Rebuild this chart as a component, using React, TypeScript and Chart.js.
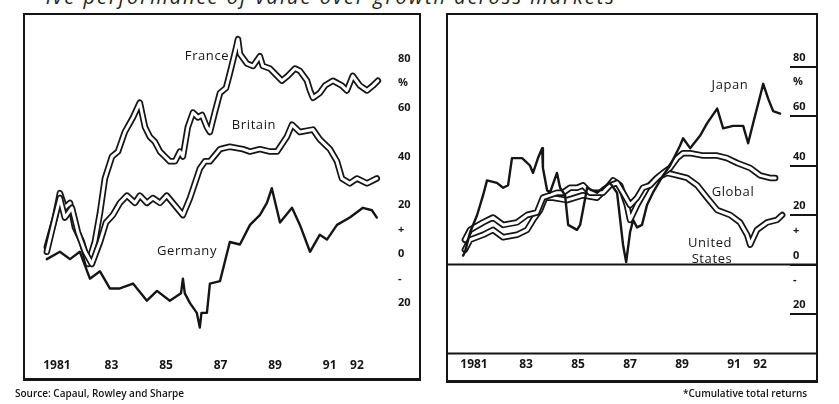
import React, { useEffect, useRef } from "react";
import { Chart, registerables } from "chart.js";

Chart.register(...registerables);

// ---------- data ----------
const X_TICK_VALUES = [1981, 1983, 1985, 1987, 1989, 1991, 1992];
const X_TICK_LABELS = ["1981", "83", "85", "87", "89", "91", "92"];
const Y_TICK_VALUES = [80, 70, 60, 40, 20, 10, 0, -10, -20];
const Y_TICK_LABELS = ["80", "%", "60", "40", "20", "+", "0", "-", "20"];
const Y_RULED_VALUES = [80, 60, 40, 20, 0, -20];

const FRANCE: [number, number][] = [
  [1980.63, 3], [1980.93, 15], [1981.11, 25], [1981.29, 19], [1981.48, 21], [1981.66, 11],
  [1981.92, 5], [1982.14, -4], [1982.39, 5], [1982.58, 17], [1982.76, 31], [1983.02, 40],
  [1983.24, 42], [1983.49, 50], [1983.79, 56], [1984.04, 62], [1984.23, 52], [1984.41, 48],
  [1984.59, 46], [1984.78, 42], [1984.96, 40], [1985.14, 38], [1985.33, 38], [1985.51, 42],
  [1985.62, 40], [1985.8, 52], [1985.99, 58], [1986.17, 56], [1986.32, 57], [1986.5, 52],
  [1986.61, 50], [1986.79, 58], [1986.98, 66], [1987.2, 68], [1987.34, 74], [1987.56, 84],
  [1987.64, 88], [1987.71, 82], [1987.97, 78], [1988.19, 77], [1988.44, 81], [1988.55, 77],
  [1988.81, 76], [1989.07, 73], [1989.25, 71], [1989.47, 73], [1989.73, 76], [1989.91, 75],
  [1990.17, 71], [1990.28, 67], [1990.39, 64], [1990.64, 66], [1990.83, 69], [1991.12, 71],
  [1991.45, 69], [1991.63, 67], [1991.85, 73], [1992.11, 69], [1992.37, 67], [1992.59, 69],
  [1992.77, 71],
];

const BRITAIN: [number, number][] = [
  [1980.63, 1], [1980.93, 15], [1981.11, 23], [1981.29, 15], [1981.55, 19], [1981.77, 9],
  [1982.03, 1], [1982.28, -4], [1982.58, 5], [1982.8, 13], [1983.05, 16], [1983.31, 21],
  [1983.57, 24], [1983.86, 21], [1984.04, 24], [1984.3, 21], [1984.52, 23], [1984.78, 21],
  [1985.03, 24], [1985.25, 21], [1985.4, 19], [1985.62, 16], [1985.88, 23], [1986.24, 35],
  [1986.43, 38], [1986.61, 38], [1986.98, 43], [1987.34, 44], [1987.82, 43], [1988.08, 42],
  [1988.44, 43], [1988.81, 42], [1989.07, 42], [1989.43, 48], [1989.62, 53], [1989.91, 50],
  [1990.39, 51], [1990.64, 47], [1991.01, 43], [1991.27, 38], [1991.45, 31], [1991.74, 29],
  [1992.0, 31], [1992.37, 29], [1992.73, 31],
];

const GERMANY: [number, number][] = [
  [1980.63, -2], [1981.11, 1], [1981.48, -2], [1981.84, 1], [1982.21, -10], [1982.58, -7],
  [1982.94, -14], [1983.31, -14], [1983.79, -12], [1984.3, -19], [1984.67, -15], [1985.14, -19],
  [1985.55, -16], [1985.62, -10], [1985.69, -16], [1985.88, -20], [1986.13, -24], [1986.24, -30],
  [1986.3, -24], [1986.5, -24], [1986.61, -12], [1986.98, -11], [1987.34, 5], [1987.71, 4],
  [1988.08, 12], [1988.44, 16], [1988.7, 21], [1988.88, 27], [1989.18, 13], [1989.62, 19],
  [1989.91, 12], [1990.28, 1], [1990.64, 8], [1990.9, 6], [1991.27, 12], [1991.74, 15],
  [1992.22, 19], [1992.55, 18], [1992.73, 15],
];

const JAPAN: [number, number][] = [
  [1980.58, 3.6], [1980.65, 5], [1980.85, 13], [1981.12, 20], [1981.35, 28], [1981.5, 34],
  [1981.88, 33], [1982.12, 31], [1982.31, 32], [1982.46, 43], [1982.65, 43], [1982.85, 43],
  [1983.15, 40], [1983.27, 37], [1983.46, 43], [1983.62, 47], [1983.65, 39], [1983.81, 30],
  [1983.92, 29], [1984.19, 37], [1984.31, 31], [1984.5, 28], [1984.62, 16], [1984.96, 14],
  [1985.08, 16], [1985.19, 22], [1985.35, 31], [1985.73, 29], [1985.96, 31], [1986.23, 33],
  [1986.5, 29], [1986.73, 8], [1986.85, 1], [1987.0, 13], [1987.12, 18], [1987.27, 15],
  [1987.46, 16], [1987.65, 24], [1987.88, 29], [1988.27, 36], [1988.54, 40], [1988.92, 48],
  [1989.04, 51], [1989.31, 47], [1989.69, 52], [1989.96, 57], [1990.35, 63], [1990.58, 55],
  [1990.96, 56], [1991.35, 56], [1991.54, 49], [1991.73, 57], [1992.0, 68], [1992.12, 73],
  [1992.31, 67], [1992.5, 62], [1992.77, 61],
];

const GLOBAL: [number, number][] = [
  [1980.65, 10], [1980.85, 14], [1981.35, 17], [1981.73, 19], [1982.12, 16], [1982.65, 17],
  [1983.04, 20], [1983.42, 21], [1983.65, 27], [1983.92, 28], [1984.19, 29], [1984.42, 29],
  [1984.69, 31], [1984.96, 31], [1985.19, 32], [1985.46, 29], [1985.73, 29], [1985.96, 29],
  [1986.23, 32], [1986.5, 33], [1986.73, 29], [1987.0, 24], [1987.27, 27], [1987.5, 31],
  [1987.77, 32], [1988.04, 35], [1988.27, 37], [1988.54, 39], [1988.81, 43], [1989.04, 45],
  [1989.31, 45], [1989.81, 44], [1990.35, 44], [1990.73, 43], [1991.12, 41], [1991.62, 39],
  [1992.0, 36], [1992.38, 35], [1992.58, 35],
];

const UNITED_STATES: [number, number][] = [
  [1980.65, 6], [1980.85, 10], [1981.35, 12], [1981.73, 14], [1982.12, 11], [1982.65, 12],
  [1983.04, 14], [1983.27, 18], [1983.54, 22], [1983.73, 27], [1984.04, 27], [1984.58, 26],
  [1985.19, 28], [1985.73, 27], [1986.12, 31], [1986.35, 34], [1986.62, 32], [1986.88, 24],
  [1987.0, 18], [1987.27, 24], [1987.65, 31], [1988.04, 35], [1988.42, 37], [1988.81, 36],
  [1989.19, 35], [1989.58, 32], [1989.96, 27], [1990.35, 22], [1990.85, 20], [1991.23, 17],
  [1991.5, 12], [1991.62, 8], [1991.88, 14], [1992.27, 17], [1992.65, 18], [1992.85, 20],
];

// ---------- helpers ----------
const INK = "#151515";
const pts = (arr: [number, number][]) => arr.map(([x, y]) => ({ x, y }));

function lineSets(data: [number, number][], kind: "single" | "double", base: number) {
  const common = { pointRadius: 0, tension: 0, borderJoinStyle: "round" as const, borderCapStyle: "round" as const };
  if (kind === "single") {
    return [{ ...common, data: pts(data), borderColor: INK, borderWidth: 2.4, order: base }];
  }
  return [
    { ...common, data: pts(data), borderColor: INK, borderWidth: 6.5, order: base + 1 },
    { ...common, data: pts(data), borderColor: "#ffffff", borderWidth: 3, order: base },
  ];
}

const tickFont = { family: "'Open Sans', 'DejaVu Sans', sans-serif", size: 11, weight: "bold" as const };
const xFont = { family: "'Open Sans', 'DejaVu Sans', sans-serif", size: 12, weight: "bold" as const };

function xScale(min: number, max: number, pad: number) {
  return {
    type: "linear" as const,
    min,
    max,
    afterBuildTicks: (s: any) => {
      s.ticks = X_TICK_VALUES.map((v) => ({ value: v }));
    },
    afterFit: (s: any) => {
      s.height = 24;
    },
    grid: { display: false, drawTicks: false },
    border: { display: false },
    ticks: {
      autoSkip: false,
      maxRotation: 0,
      padding: pad,
      color: INK,
      font: xFont,
      callback: (_v: any, i: number) => X_TICK_LABELS[i],
    },
  };
}

function makeLeft(canvas: HTMLCanvasElement) {
  const datasets = [
    ...lineSets(FRANCE, "double", 20),
    ...lineSets(BRITAIN, "double", 10),
    ...lineSets(GERMANY, "single", 1),
  ];
  return new Chart(canvas, {
    type: "line",
    data: { datasets },
    options: {
      animation: false,
      responsive: false,
      events: [],
      plugins: { legend: { display: false }, tooltip: { enabled: false } },
      layout: { padding: { left: 25, top: 15.4, right: 418, bottom: 28 } },
      scales: {
        x: xScale(1979.83, 1993.03, 6),
        y: {
          type: "linear",
          position: "right",
          min: -40,
          max: 96,
          afterBuildTicks: (s: any) => {
            s.ticks = Y_TICK_VALUES.map((v) => ({ value: v }));
          },
          afterFit: (s: any) => {
            s.width = 36;
          },
          grid: { display: false, drawTicks: false },
          border: { display: false },
          ticks: {
            padding: 13,
            color: INK,
            font: tickFont,
            callback: (_v: any, i: number) => Y_TICK_LABELS[i],
          },
        },
      },
    },
  } as any);
}

const fullRules = {
  id: "fullRules",
  afterDraw(chart: any) {
    const { ctx, chartArea, scales } = chart;
    const y0 = scales.y.getPixelForValue(0);
    const yb = chartArea.bottom;
    ctx.save();
    ctx.strokeStyle = INK;
    ctx.lineWidth = 2;
    ctx.beginPath();
    ctx.moveTo(chartArea.left - 1, y0);
    ctx.lineTo(chartArea.right + 27, y0);
    ctx.moveTo(chartArea.left - 1, yb);
    ctx.lineTo(chartArea.right + 27, yb);
    ctx.stroke();
    ctx.restore();
  },
};

function makeRight(canvas: HTMLCanvasElement) {
  const datasets = [
    ...lineSets(UNITED_STATES, "double", 20),
    ...lineSets(GLOBAL, "double", 10),
    ...lineSets(JAPAN, "single", 1),
  ];
  return new Chart(canvas, {
    type: "line",
    data: { datasets },
    options: {
      animation: false,
      responsive: false,
      events: [],
      plugins: { legend: { display: false }, tooltip: { enabled: false } },
      layout: { padding: { left: 448, top: 17, right: 21, bottom: 26.4 } },
      scales: {
        x: xScale(1980.0, 1993.15, 4),
        y: {
          type: "linear",
          position: "right",
          min: -36,
          max: 100,
          afterBuildTicks: (s: any) => {
            s.ticks = Y_TICK_VALUES.map((v) => ({ value: v }));
          },
          afterFit: (s: any) => {
            s.width = 28;
          },
          grid: {
            display: true,
            drawOnChartArea: false,
            drawTicks: true,
            tickLength: 26,
            lineWidth: 2,
            color: (c: any) =>
              c.tick && Y_RULED_VALUES.includes(c.tick.value) ? INK : "rgba(0,0,0,0)",
          },
          border: { display: false },
          ticks: {
            padding: -23,
            labelOffset: -9,
            color: INK,
            font: tickFont,
            callback: (_v: any, i: number) => Y_TICK_LABELS[i],
          },
        },
      },
    },
    plugins: [fullRules],
  } as any);
}

// ---------- component ----------
const labelStyle: React.CSSProperties = {
  position: "absolute",
  transform: "translate(-50%, -50%)",
  fontFamily: "'Open Sans', 'DejaVu Sans', sans-serif",
  fontSize: 13,
  color: INK,
  letterSpacing: 0.6,
  whiteSpace: "nowrap",
  lineHeight: 1,
};

export default function App() {
  const leftRef = useRef<HTMLCanvasElement>(null);
  const rightRef = useRef<HTMLCanvasElement>(null);

  useEffect(() => {
    const a = makeLeft(leftRef.current!);
    const b = makeRight(rightRef.current!);
    return () => {
      a.destroy();
      b.destroy();
    };
  }, []);

  const canvasStyle: React.CSSProperties = {
    position: "absolute",
    left: 0,
    top: 0,
    width: 839,
    height: 404,
  };

  return (
    <div
      style={{
        position: "fixed",
        left: 0,
        top: 0,
        width: 839,
        height: 404,
        background: "#fff",
        overflow: "hidden",
      }}
    >
      <div
        style={{
          position: "absolute",
          left: 46,
          top: -17,
          fontFamily: "'Open Sans', 'DejaVu Sans', sans-serif",
          fontSize: 20,
          fontStyle: "italic",
          color: "#222",
          letterSpacing: 2,
          whiteSpace: "nowrap",
        }}
      >
        ive performance of value over growth across markets*
      </div>
      <div
        style={{
          position: "absolute",
          left: 23,
          top: 13,
          width: 394,
          height: 363,
          borderStyle: "solid",
          borderColor: INK,
          borderWidth: "2px 2px 3px 2px",
        }}
      />
      <div
        style={{
          position: "absolute",
          left: 446,
          top: 13,
          width: 368,
          height: 365,
          borderStyle: "solid",
          borderColor: INK,
          borderWidth: "2px 2px 3px 2px",
        }}
      />
      <canvas ref={leftRef} width={839} height={404} style={canvasStyle} />
      <canvas ref={rightRef} width={839} height={404} style={canvasStyle} />

      <div style={{ ...labelStyle, left: 207, top: 55 }}>France</div>
      <div style={{ ...labelStyle, left: 254, top: 124 }}>Britain</div>
      <div style={{ ...labelStyle, left: 187, top: 250 }}>Germany</div>
      <div style={{ ...labelStyle, left: 730, top: 84 }}>Japan</div>
      <div style={{ ...labelStyle, left: 733, top: 191 }}>Global</div>
      <div style={{ ...labelStyle, left: 710, top: 242 }}>United</div>
      <div style={{ ...labelStyle, left: 712, top: 258 }}>States</div>

      <div
        style={{
          position: "absolute",
          left: 15,
          top: 386,
          fontFamily: "'Open Sans', 'DejaVu Sans', sans-serif",
          fontSize: 10,
          fontWeight: 600,
          color: INK,
          whiteSpace: "nowrap",
        }}
      >
        Source: Capaul, Rowley and Sharpe
      </div>
      <div
        style={{
          position: "absolute",
          left: 683,
          top: 386,
          fontFamily: "'Open Sans', 'DejaVu Sans', sans-serif",
          fontSize: 10,
          fontWeight: 600,
          color: INK,
          whiteSpace: "nowrap",
        }}
      >
        *Cumulative total returns
      </div>
    </div>
  );
}
